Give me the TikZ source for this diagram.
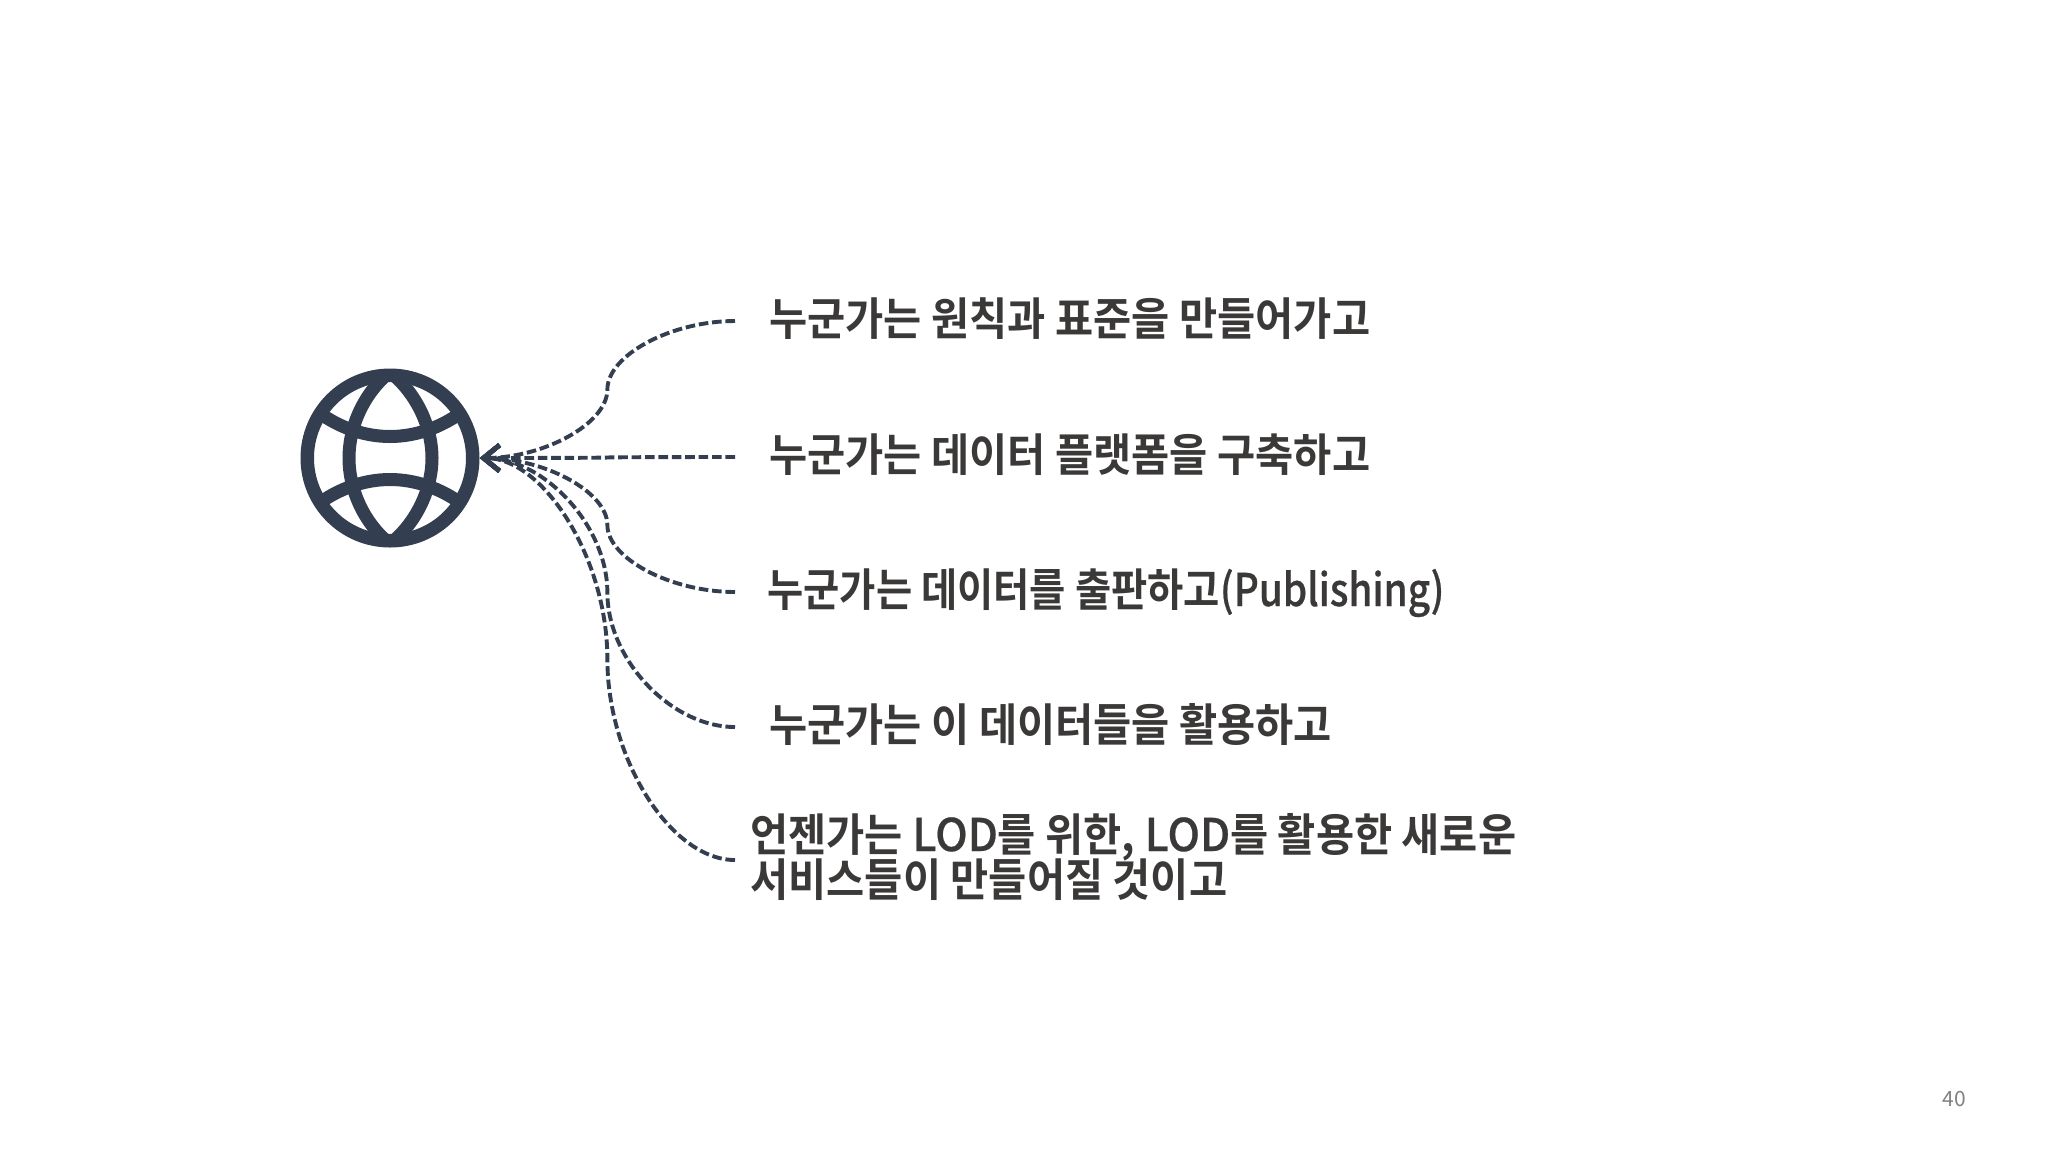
\documentclass[tikz,border=0pt]{standalone}
\usepackage{fontspec}
\usetikzlibrary{arrows.meta,calc}
\setmainfont{Noto Sans CJK KR}
\newfontfamily\krfont[FakeStretch=0.922,BoldFont=*]{Noto Sans CJK KR Bold}
\newfontfamily\krtight[FakeStretch=0.875,BoldFont=*]{Noto Sans CJK KR Bold}
\newfontfamily\krlatin[FakeStretch=0.86,FakeBold=0.5,BoldFont=*]{Noto Sans CJK KR Medium}
\newfontfamily\krlod[FakeStretch=0.96,FakeBold=0.5,BoldFont=*]{Noto Sans CJK KR Medium}
\definecolor{navy}{HTML}{333F50}
\definecolor{inktext}{HTML}{3B3838}
\definecolor{pagegray}{HTML}{808080}
\tikzset{
  x=0.5pt,y=-0.5pt,
  globe/.style={circle,draw=navy,line width=6.75pt,minimum size=82.75pt,inner sep=0pt,outer sep=0pt},
  globeline/.style={draw=navy,line width=6.5pt},
  conn/.style={draw=navy,line width=1.95pt,dash pattern=on 4.8pt off 1.9pt,-{Straight Barb[length=8pt,width=13pt,line width=2.4pt]}},
  label/.style={anchor=base west,inner sep=0pt,font=\krfont\fontsize{22.5pt}{22.5pt}\selectfont,text=inktext},
  pageno/.style={anchor=base,inner sep=0pt,font=\fontsize{10.5pt}{10.5pt}\selectfont,text=pagegray}
}
\newcommand\sconn[2]{%
  \draw[conn] let \p1=(#1),\p2=(#2),\n1={\x2-\x1},\n2={\y2-\y1} in
    (\p1) .. controls (\x1+.25*\n1,\y1) and (\x1+.5*\n1,\y1+.25*\n2) .. (\x1+.5*\n1,\y1+.5*\n2)
    .. controls (\x1+.5*\n1,\y1+.75*\n2) and (\x1+.75*\n1,\y2) .. (\p2);}
\begin{document}
\begin{tikzpicture}
\useasboundingbox (0,0) rectangle (2048,1152);
\node[globe] (globe) at (390,458) {};
\begin{scope}
  \clip (globe.center) circle[radius=41pt];
  \draw[globeline] (390,372) .. controls (365,392) and (349,425) .. (349,458)
     .. controls (349,491) and (365,524) .. (390,544);
  \draw[globeline] (390,372) .. controls (415,392) and (432,425) .. (432,458)
     .. controls (432,491) and (415,524) .. (390,544);
  \draw[globeline] (318,412) .. controls (340,428) and (365,436.5) .. (390,436.5)
     .. controls (415,436.5) and (440,428) .. (462,412);
  \draw[globeline] (318,504) .. controls (340,488) and (365,479.5) .. (390,479.5)
     .. controls (415,479.5) and (440,488) .. (462,504);
\end{scope}
\coordinate (tip) at ($(globe.east)+(7,0)$);
\coordinate (c1) at (735,321);
\coordinate (c2) at (735,457);
\coordinate (c3) at (735,592);
\coordinate (c4) at (735,727);
\coordinate (c5) at (735,860);
\sconn{c1}{tip}
\sconn{c2}{tip}
\sconn{c3}{tip}
\sconn{c4}{tip}
\sconn{c5}{tip}
\node[label] (t1) at (769,335.5) {누군가는 원칙과 표준을 만들어가고};
\node[label] (t2) at (769,471) {누군가는 데이터 플랫폼을 구축하고};
\node[label] (t3) at (767,606) {\krtight 누군가는 데이터를 출판하고\krlatin (Publishing)};
\node[label] (t4) at (769,741) {누군가는 이 데이터들을 활용하고};
\node[label] (t5) at (750,851) {언젠가는 {\krlod LOD}를 위한, {\krlod LOD}를 활용한 새로운};
\node[label] (t6) at (750,896) {서비스들이 만들어질 것이고};
\node[pageno] (pg) at (1954,1106) {40};
\end{tikzpicture}
\end{document}
